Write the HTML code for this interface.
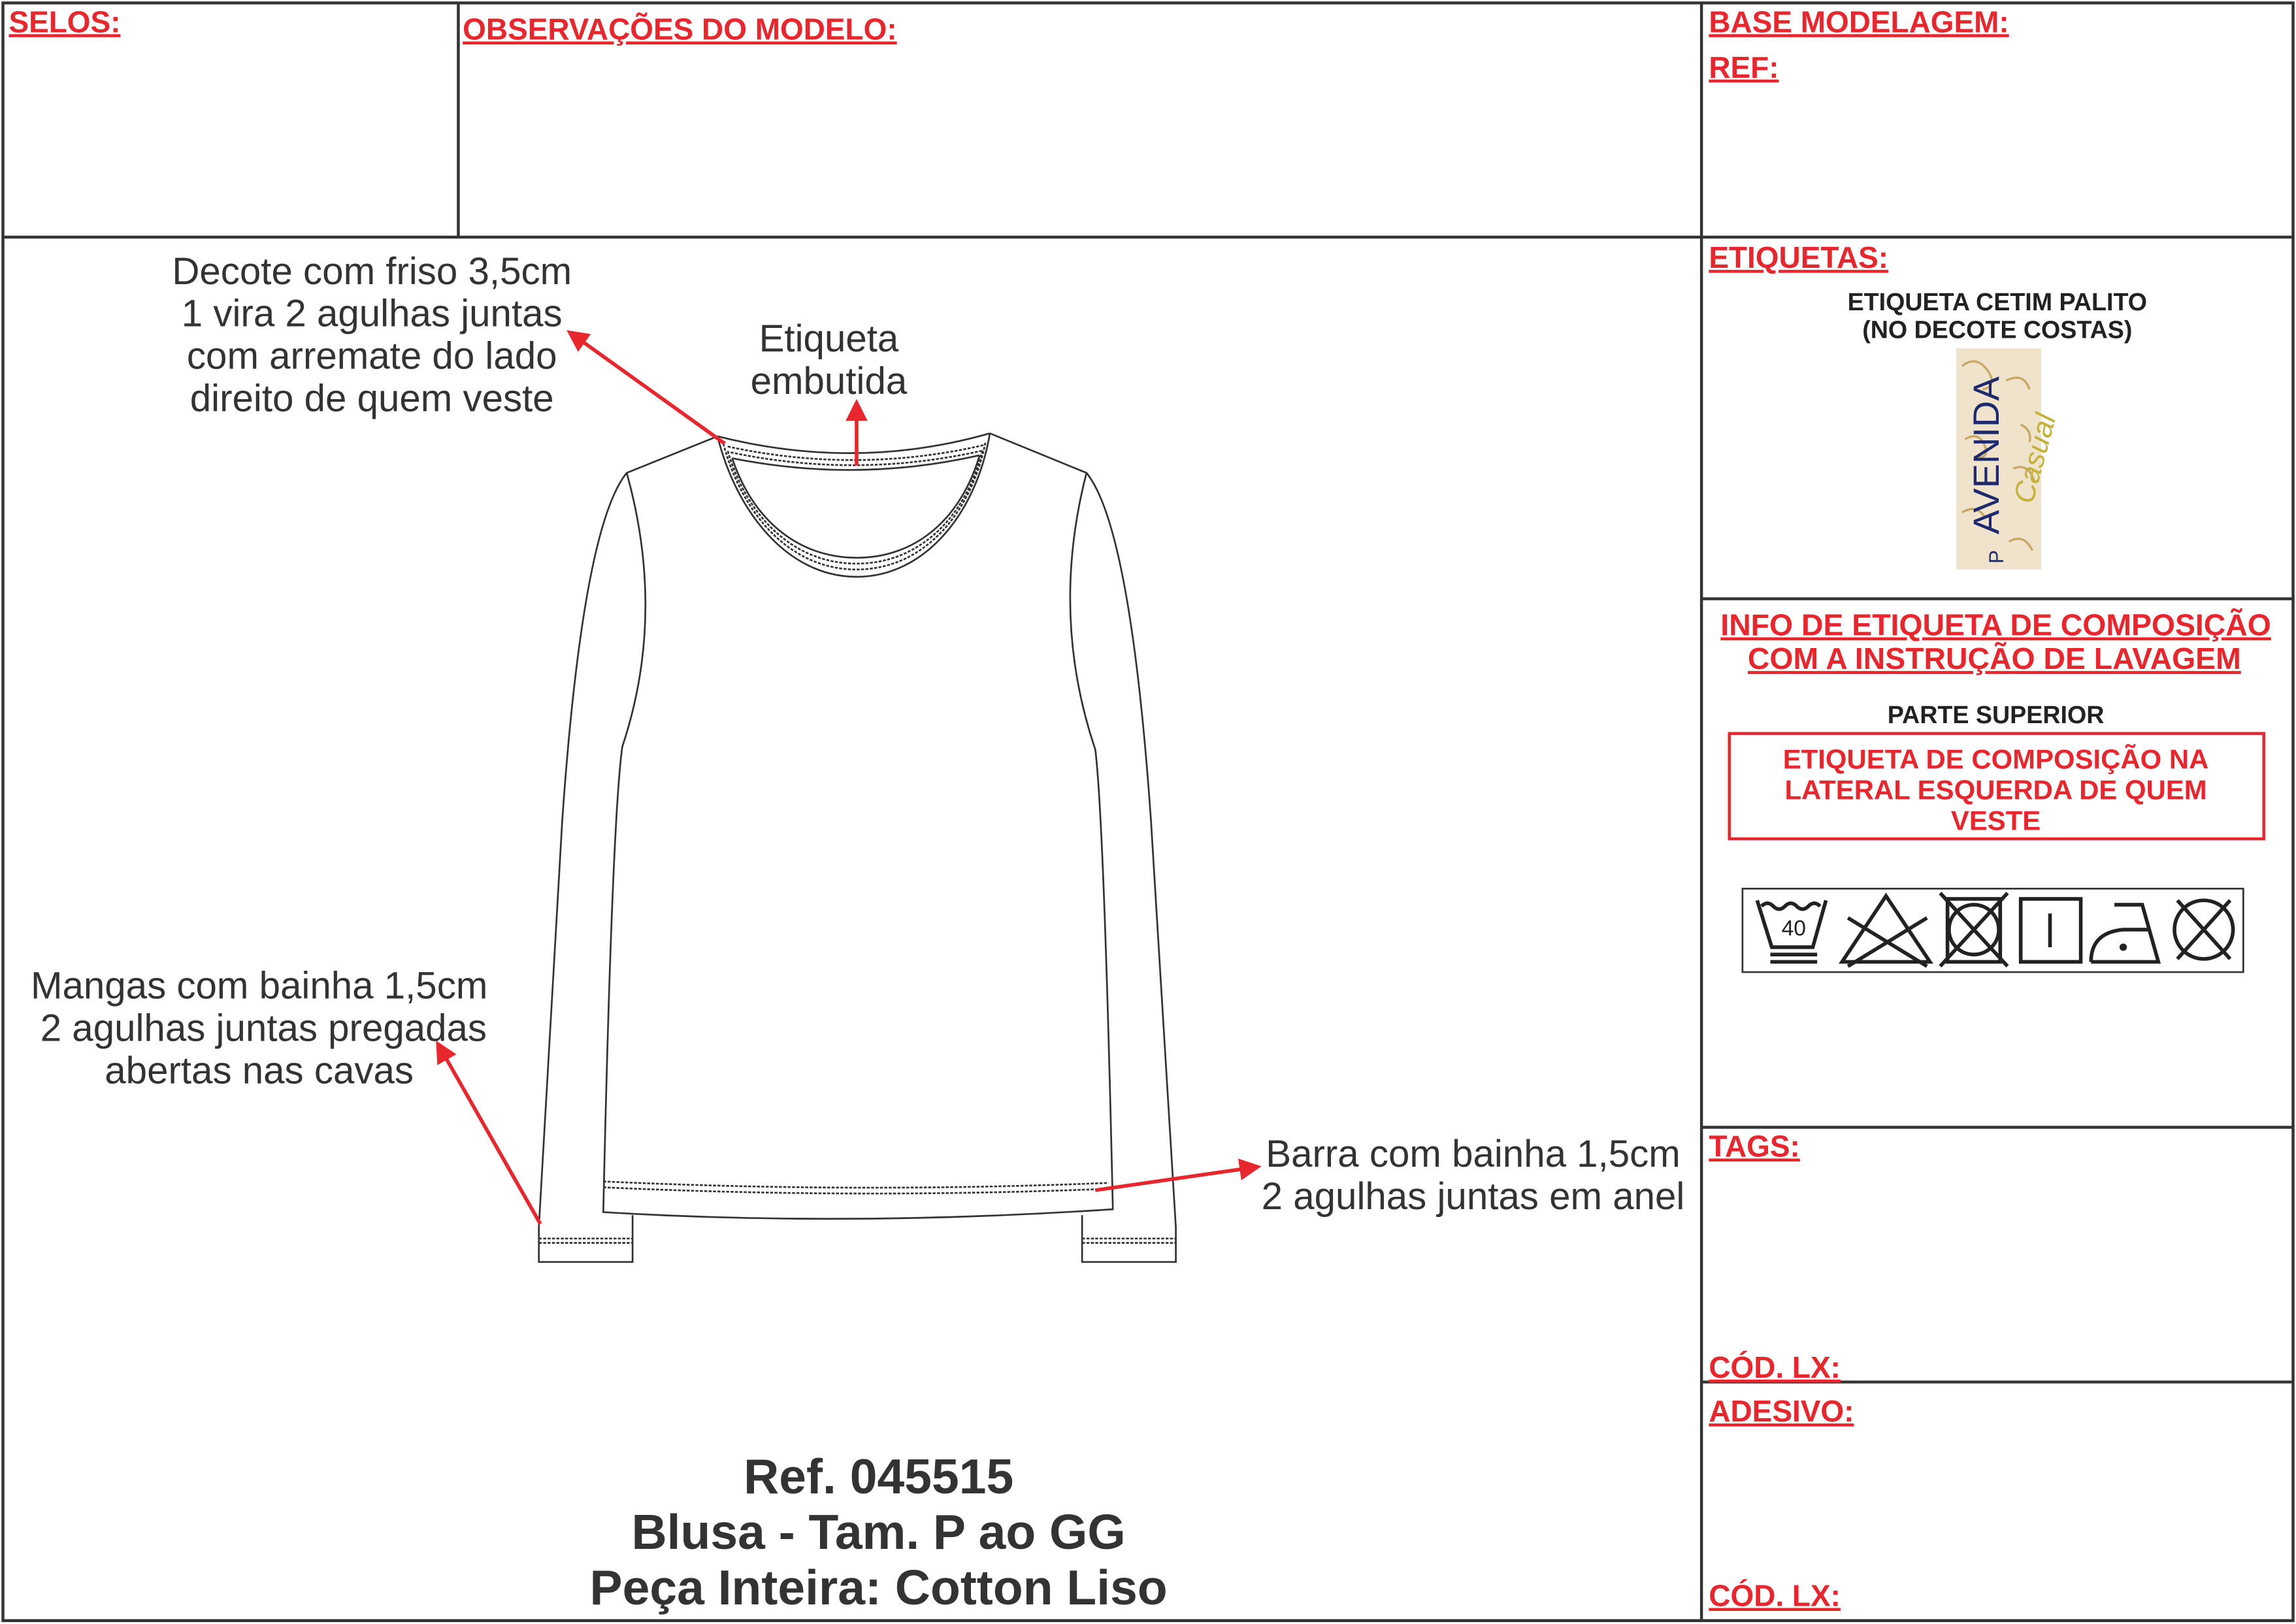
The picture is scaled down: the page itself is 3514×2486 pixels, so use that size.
<!DOCTYPE html>
<html><head><meta charset="utf-8"><style>
html,body{margin:0;padding:0;background:#fff}
svg{display:block}
text{font-family:"Liberation Sans",sans-serif}
.r{fill:#e8262d;font-weight:bold;font-size:20.5px;text-decoration:underline}
.k{fill:#222;font-weight:bold}
</style></head><body>
<svg width="3514" height="2486" viewBox="0 0 1568 1109.3" preserveAspectRatio="none" xmlns="http://www.w3.org/2000/svg">
<defs><marker id="a" markerWidth="6" markerHeight="6" refX="5" refY="3" orient="auto" markerUnits="strokeWidth"><path d="M0,0 L6,3 L0,6 z" fill="#e8262d"/></marker></defs>
<g stroke="#333" stroke-width="2" fill="none">
<rect x="2" y="2" width="1564" height="1105"/>
<line x1="2" y1="162" x2="1566" y2="162"/>
<line x1="313" y1="2" x2="313" y2="162"/>
<line x1="1162" y1="2" x2="1162" y2="1107"/>
<line x1="1162" y1="409" x2="1566" y2="409"/>
<line x1="1162" y1="770" x2="1566" y2="770"/>
<line x1="1162" y1="944" x2="1566" y2="944"/>
</g>
<text class="r" x="6" y="22">SELOS:</text>
<text class="r" x="316" y="27">OBSERVAÇÕES DO MODELO:</text>
<text class="r" x="1167" y="22">BASE MODELAGEM:</text>
<text class="r" x="1167" y="53">REF:</text>
<text class="r" x="1167" y="183">ETIQUETAS:</text>
<text class="r" x="1167" y="790">TAGS:</text>
<text class="r" x="1167" y="941">CÓD. LX:</text>
<text class="r" x="1167" y="971">ADESIVO:</text>
<text class="r" x="1167" y="1097">CÓD. LX:</text>
<text class="k" x="1364" y="212" font-size="16.8" text-anchor="middle">ETIQUETA CETIM PALITO</text>
<text class="k" x="1364" y="231" font-size="16.8" text-anchor="middle">(NO DECOTE COSTAS)</text>
<rect x="1336" y="238" width="58" height="151" fill="#efe3cc"/>
<g stroke="#c9a865" stroke-width="1.5" fill="none"><path d="M1340,250 q10,-8 18,4 q6,10 -4,12 M1370,260 q12,-6 16,6 M1342,300 q10,-6 14,6 q2,8 -8,6 M1375,320 q10,-4 14,8 M1340,350 q10,-6 16,4 M1372,370 q10,-6 16,6 M1380,290 q8,4 6,12"/></g>
<text x="1365" y="365" font-size="25" fill="#1e2a6e" transform="rotate(-90 1365 365)">AVENIDA</text>
<text x="1368" y="385" font-size="14" fill="#1e2a6e" transform="rotate(-90 1368 385)">P</text>
<text x="1388" y="345" font-size="20" fill="#c4b23a" font-style="italic" font-family="Liberation Serif" transform="rotate(-75 1388 345)">Casual</text>
<text x="1363" y="434" font-size="20.7" font-weight="bold" fill="#e8262d" text-anchor="middle" text-decoration="underline">INFO DE ETIQUETA DE COMPOSIÇÃO </text>
<text x="1362" y="457" font-size="20.7" font-weight="bold" fill="#e8262d" text-anchor="middle" text-decoration="underline">COM A INSTRUÇÃO DE LAVAGEM</text>
<text class="k" x="1363" y="494" font-size="16.8" text-anchor="middle">PARTE SUPERIOR</text>
<rect x="1181" y="501" width="365" height="72" fill="none" stroke="#e8262d" stroke-width="2"/>
<g font-size="18.7" font-weight="bold" fill="#e8262d" text-anchor="middle"><text x="1363" y="525">ETIQUETA DE COMPOSIÇÃO NA</text><text x="1363" y="546">LATERAL ESQUERDA DE QUEM</text><text x="1363" y="567">VESTE</text></g>
<rect x="1190" y="607" width="342" height="57" fill="none" stroke="#333" stroke-width="1.2"/>
<g stroke="#222" stroke-width="2.5" fill="none">
<path d="M1200,615 L1210,647 L1238,647 L1247,615"/>
<path d="M1203,619 q4,-4 8,0 q4,4 8,0 q4,-4 8,0 q4,4 8,0 q4,-4 8,0"/>
<line x1="1209" y1="652" x2="1241" y2="652"/><line x1="1209" y1="657" x2="1241" y2="657"/>
<path d="M1288,612 L1318,657 L1258,657 Z"/><line x1="1262" y1="627" x2="1316" y2="660"/><line x1="1262" y1="660" x2="1316" y2="627"/>
<rect x="1330" y="614" width="36" height="43"/><circle cx="1348" cy="635" r="17"/><line x1="1325" y1="610" x2="1371" y2="660"/><line x1="1371" y1="610" x2="1325" y2="660"/>
<rect x="1380" y="614" width="41" height="43"/><line x1="1400" y1="624" x2="1400" y2="647"/>
<path d="M1428,657 L1474,657 L1463,618 L1444,618 M1428,657 q0,-20 22,-22 L1468,635"/>
<circle cx="1505" cy="635" r="20"/><line x1="1487" y1="615" x2="1523" y2="655"/><line x1="1523" y1="615" x2="1487" y2="655"/>
</g>
<circle cx="1450" cy="647" r="2.5" fill="#222"/>
<text x="1225" y="639" font-size="15" fill="#222" text-anchor="middle">40</text>
<!-- shirt -->
<g stroke="#333" stroke-width="1.2" fill="none">
<path d="M490,298 L428,323 Q398,360 384,560 L368,838 L368,862 L432,862 L432,830"/>
<path d="M676,296 L742,323 Q772,360 786,560 L803,838 L803,862 L739,862 L739,830"/>
<path d="M428,323 Q455,420 425,510 Q418,560 412,828 Q580,838 760,826 Q754,560 748,512 Q717,420 742,323"/>
<line x1="368" y1="846" x2="432" y2="846" stroke-dasharray="2,1"/><line x1="368" y1="849" x2="432" y2="849" stroke-dasharray="2,1"/>
<line x1="739" y1="846" x2="803" y2="846" stroke-dasharray="2,1"/><line x1="739" y1="849" x2="803" y2="849" stroke-dasharray="2,1"/>
<path d="M412,807 Q585,815 757,808" stroke-dasharray="2,1"/><path d="M412,811 Q585,819 757,812" stroke-dasharray="2,1"/>
<path d="M490,298 C503,350 538,394 585,394 C632,394 667,350 676,296"/>
<path d="M500,313 C514,355 545,381 585,381 C625,381 656,355 669,311"/>
<path d="M490,298 Q585,322 676,296"/>
<path d="M500,313 Q585,330 669,311"/>
<path d="M494,303 C507,352 540,389 585,389 C630,389 663,352 673,302" stroke-dasharray="2,1"/>
<path d="M497,308 C510,353 542,385 585,385 C628,385 660,353 671,307" stroke-dasharray="2,1"/>
<path d="M497,305 Q585,324 672,304" stroke-dasharray="2,1"/>
<path d="M499,309 Q585,327 670,308" stroke-dasharray="2,1"/>
</g>
<g stroke="#e8262d" stroke-width="2.5" fill="none" marker-end="url(#a)">
<line x1="495" y1="303" x2="389" y2="227"/>
<line x1="585" y1="318" x2="585" y2="275"/>
<line x1="369" y1="836" x2="299" y2="713"/>
<line x1="748" y1="813" x2="859" y2="797"/>
</g>
<g text-anchor="middle" fill="#333" font-size="26">
<text x="254" y="194">Decote com friso 3,5cm</text><text x="254" y="223">1 vira 2 agulhas juntas</text><text x="254" y="252">com arremate do lado</text><text x="254" y="281">direito de quem veste</text>
<text x="566" y="240">Etiqueta</text><text x="566" y="269">embutida</text>
<text x="177" y="682">Mangas com bainha 1,5cm</text><text x="180" y="711">2 agulhas juntas pregadas</text><text x="177" y="740">abertas nas cavas</text>
<text x="1006" y="797">Barra com bainha 1,5cm</text><text x="1006" y="826">2 agulhas juntas em anel</text>
</g>
<g text-anchor="middle" font-weight="bold" fill="#333" font-size="33.5">
<text x="600" y="1020">Ref. 045515</text><text x="600" y="1058">Blusa - Tam. P ao GG</text><text x="600" y="1096">Peça Inteira: Cotton Liso</text>
</g>
</svg>
</body></html>
